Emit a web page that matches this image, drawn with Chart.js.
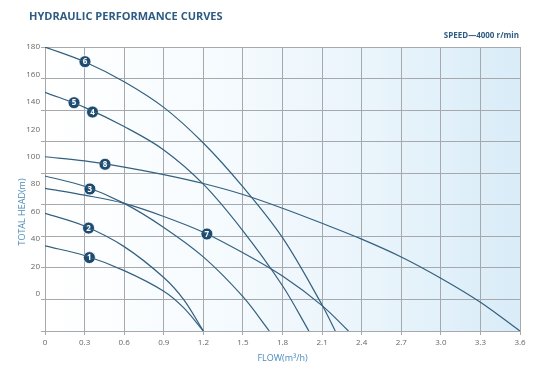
<!DOCTYPE html>
<html>
<head>
<meta charset="utf-8">
<script src="https://cdn.jsdelivr.net/npm/chart.js@4"></script>
<style>
  body { margin: 0; background: #fff; }
  #wrap { position: relative; width: 560px; height: 368px; }
  #title { position: absolute; left: 29px; top: 8px; font: 700 11px "Open Sans", sans-serif; color: #2d5b82; }
  #speed { position: absolute; right: 41px; top: 29px; font: 700 8px "Open Sans", sans-serif; color: #2d5b82; }
  canvas { position: absolute; left: 0; top: 0; }
</style>
</head>
<body>
<div id="wrap">
  <canvas id="pump-chart" width="560" height="368"></canvas>
  <div id="title">HYDRAULIC PERFORMANCE CURVES</div>
  <div id="speed">SPEED—4000 r/min</div>
</div>
<script>
// axis ticks
const flowTicks = [0, 0.3, 0.6, 0.9, 1.2, 1.5, 1.8, 2.1, 2.4, 2.7, 3.0, 3.3, 3.6];
const flowLabels = ['0', '0.3', '0.6', '0.9', '1.2', '1.5', '1.8', '2.1', '2.4', '2.7', '3.0', '3.3', '3.6'];
const headLabels = [0, 20, 40, 60, 80, 100, 120, 140, 160, 180];
// horizontal grid lines do not line up with the head labels in the original
const headGrid = [180, 157, 134, 111, 88, 65, 42, 19, -4, -27];

// curves (flow m3/h, head m)
const flow1 = [0, 0.3, 0.6, 0.9, 1.05, 1.2];
const head1 = [35, 28, 17, 2, -10, -27];
const flow2 = [0, 0.3, 0.6, 0.9, 1.05, 1.2];
const head2 = [58.8, 49.5, 34.5, 12, -4, -27];
const flow3 = [0, 0.3, 0.6, 0.9, 1.2, 1.5, 1.7];
const head3 = [86, 78.5, 66, 48.5, 27, -2, -27];
const flow45 = [0, 0.3, 0.6, 0.9, 1.2, 1.5, 1.8, 2.0];
const head45 = [147, 136, 122, 105, 80, 46, 6, -27];
const flow6 = [0, 0.3, 0.6, 0.9, 1.2, 1.5, 1.8, 2.1, 2.2];
const head6 = [180, 169.3, 154.7, 136, 110, 78, 41, -8, -27];
const flow7 = [0, 0.3, 0.6, 0.9, 1.2, 1.5, 1.8, 2.1, 2.3];
const head7 = [77, 72, 66, 56.5, 45, 30, 13, -8.5, -27];
const flow8 = [0, 0.3, 0.6, 0.9, 1.2, 1.5, 1.8, 2.1, 2.4, 2.7, 3.0, 3.3, 3.6];
const head8 = [100, 97, 92.5, 87, 80.5, 72.5, 62.5, 51.5, 40, 27, 11.5, -6, -27];

// numbered markers
const markerNames = ['1', '2', '3', '4', '5', '6', '7', '8'];
const markerFlow = [0.336, 0.33, 0.34, 0.36, 0.22, 0.303, 1.227, 0.455];
const markerHead = [26.5, 48, 76.5, 132.6, 139.4, 169.3, 43.7, 94.5];

const lineColor = '#33607f';
const gridColor = '#a5a9ad';

function curve(flow, head) {
  return {
    data: flow.map((f, i) => ({ x: f, y: head[i] })),
    borderColor: lineColor,
    borderWidth: 1.2,
    pointRadius: 0,
    tension: 0.35,
    fill: false
  };
}

const bgPlugin = {
  id: 'bg',
  beforeDraw(chart) {
    const { ctx, chartArea: a } = chart;
    const g = ctx.createLinearGradient(a.left, 0, a.right, 0);
    g.addColorStop(0, '#ffffff');
    g.addColorStop(0.35, '#f6fbfe');
    g.addColorStop(0.7, '#e9f4fb');
    g.addColorStop(1, '#d9ecf8');
    ctx.save();
    ctx.fillStyle = g;
    ctx.fillRect(a.left, a.top, a.right - a.left, a.bottom - a.top);
    ctx.restore();
  },
  afterDraw(chart) {
    // y title, placed as in the original (a bit below centre)
    const ctx = chart.ctx;
    ctx.save();
    ctx.translate(22, 212);
    ctx.rotate(-Math.PI / 2);
    ctx.font = '9px "Open Sans", sans-serif';
    ctx.fillStyle = '#4a8abb';
    ctx.textAlign = 'center';
    ctx.textBaseline = 'middle';
    ctx.fillText('TOTAL HEAD(m)', 0, 0);
    ctx.restore();
  }
};

const markerText = {
  id: 'markerText',
  afterDatasetsDraw(chart) {
    const meta = chart.getDatasetMeta(chart.data.datasets.length - 1);
    const ctx = chart.ctx;
    ctx.save();
    ctx.font = '700 8px "Open Sans", sans-serif';
    ctx.fillStyle = '#ffffff';
    ctx.textAlign = 'center';
    ctx.textBaseline = 'middle';
    meta.data.forEach((pt, i) => ctx.fillText(markerNames[i], pt.x, pt.y + 0.5));
    ctx.restore();
  }
};

new Chart(document.getElementById('pump-chart'), {
  type: 'line',
  data: {
    datasets: [
      curve(flow1, head1),
      curve(flow2, head2),
      curve(flow3, head3),
      curve(flow45, head45),
      curve(flow6, head6),
      curve(flow7, head7),
      curve(flow8, head8),
      {
        data: markerFlow.map((f, i) => ({ x: f, y: markerHead[i] })),
        showLine: false,
        pointRadius: 6,
        pointBackgroundColor: '#1d4a6f',
        pointBorderColor: '#ffffff',
        pointBorderWidth: 0.8
      }
    ]
  },
  options: {
    responsive: false,
    animation: false,
    layout: { padding: { top: 47, right: 40, left: 0, bottom: 0 } },
    plugins: { legend: { display: false }, tooltip: { enabled: false } },
    scales: {
      x: {
        type: 'linear',
        min: 0,
        max: 3.6,
        afterBuildTicks: s => { s.ticks = flowTicks.map(v => ({ value: v })); },
        afterFit: s => { s.height = 37; },
        grid: { color: gridColor, lineWidth: 1, tickLength: 4 },
        border: { color: gridColor },
        ticks: {
          autoSkip: false,
          maxRotation: 0,
          padding: 3,
          color: '#666',
          font: { family: 'Open Sans', size: 8 },
          callback: (v, i) => flowLabels[i]
        },
        title: {
          display: true,
          text: 'FLOW(m³/h)',
          color: '#4a8abb',
          font: { family: 'Open Sans', size: 9 },
          padding: { top: 2, bottom: 4 }
        }
      },
      y: {
        type: 'linear',
        min: -27,
        max: 180,
        afterBuildTicks: s => {
          const vals = headGrid.concat(headLabels.filter(v => !headGrid.includes(v)));
          vals.sort((a, b) => a - b);
          s.ticks = vals.map(v => ({ value: v }));
        },
        afterFit: s => { s.width = 45; },
        grid: {
          color: c => (c.tick && headGrid.includes(c.tick.value)) ? gridColor : 'rgba(0,0,0,0)',
          lineWidth: 1,
          tickLength: 4
        },
        border: { color: gridColor },
        ticks: {
          autoSkip: false,
          padding: 1,
          color: '#666',
          font: { family: 'Open Sans', size: 8 },
          callback: v => headLabels.includes(v) ? String(v) : ''
        }
      }
    }
  },
  plugins: [bgPlugin, markerText]
});
</script>
</body>
</html>
